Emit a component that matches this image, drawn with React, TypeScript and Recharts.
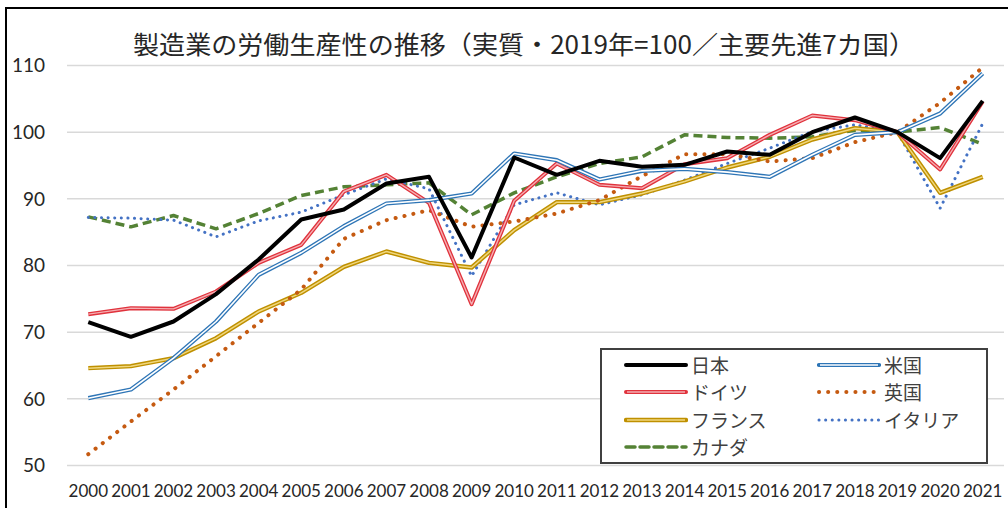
import { LineChart, Line, XAxis, YAxis, CartesianGrid } from 'recharts';

const years = [
  '2000', '2001', '2002', '2003', '2004', '2005', '2006', '2007', '2008', '2009', '2010',
  '2011', '2012', '2013', '2014', '2015', '2016', '2017', '2018', '2019', '2020', '2021'
];

const japan = [71.5, 69.3, 71.6, 75.7, 80.9, 86.9, 88.4, 92.3, 93.3, 81.2, 96.2, 93.6, 95.7, 94.8, 95.1, 97.1, 96.6, 100.0, 102.2, 100, 96.1, 104.7];
const usa = [60.1, 61.4, 66.1, 71.6, 78.6, 81.9, 85.9, 89.3, 89.8, 90.8, 96.8, 95.8, 92.9, 94.2, 94.5, 94.0, 93.3, 96.6, 99.6, 100, 102.8, 108.8];
const germany = [72.7, 73.6, 73.5, 76.1, 80.4, 83.1, 91.1, 93.6, 89.4, 74.2, 89.7, 95.3, 92.1, 91.6, 95.2, 96.1, 99.6, 102.5, 101.8, 100, 94.4, 104.6];
const uk = [51.7, 56.6, 61.4, 66.4, 71.4, 76.4, 84.0, 86.8, 88.3, 85.8, 86.6, 87.8, 89.8, 93.4, 96.7, 96.7, 95.6, 96.1, 98.5, 100, 104.4, 109.7];
const france = [64.6, 64.9, 66.1, 69.1, 73.1, 75.9, 79.8, 82.1, 80.4, 79.7, 85.3, 89.5, 89.5, 90.8, 92.6, 94.7, 96.3, 98.9, 100.6, 100, 90.9, 93.3];
const italy = [87.2, 87.1, 86.8, 84.3, 86.7, 88.0, 90.6, 93.0, 91.5, 78.4, 89.1, 90.9, 89.1, 90.6, 92.8, 95.3, 97.6, 100.1, 101.1, 100, 88.6, 101.3];
const canada = [87.3, 85.8, 87.5, 85.5, 87.8, 90.5, 91.8, 92.1, 92.4, 87.6, 90.9, 93.3, 95.3, 96.3, 99.6, 99.2, 99.1, 99.3, 100.3, 100, 100.7, 98.2];

const yTicks = [50, 60, 70, 80, 90, 100, 110];

const data = years.map((y, i) => ({
  year: y,
  japan: japan[i],
  usa: usa[i],
  germany: germany[i],
  uk: uk[i],
  france: france[i],
  italy: italy[i],
  canada: canada[i]
}));

const TITLE = '製造業の労働生産性の推移（実質・2019年=100／主要先進7カ国）';

type LineStyle = {
  stroke: string;
  width: number;
  dash?: string;
  cap?: 'round' | 'butt';
  inner?: string;
  innerWidth?: number;
};

const STYLES: Record<string, LineStyle> = {
  japan: { stroke: '#000000', width: 4 },
  usa: { stroke: '#2E75B6', width: 4.2, inner: '#ffffff', innerWidth: 1.6 },
  germany: { stroke: '#E0323C', width: 4, inner: '#F5AEB2', innerWidth: 1.4 },
  uk: { stroke: '#C55A11', width: 4, dash: '0.1 9', cap: 'round' },
  france: { stroke: '#BF9000', width: 4.4, inner: '#F0D77E', innerWidth: 1.5 },
  italy: { stroke: '#4472C4', width: 3, dash: '0.1 6.5', cap: 'round' },
  canada: { stroke: '#548235', width: 3.5, dash: '9 5' }
};

// legend is laid out row by row, two columns, same as the picture
const LEGEND = [
  { key: 'japan', name: '日本' },
  { key: 'usa', name: '米国' },
  { key: 'germany', name: 'ドイツ' },
  { key: 'uk', name: '英国' },
  { key: 'france', name: 'フランス' },
  { key: 'italy', name: 'イタリア' },
  { key: 'canada', name: 'カナダ' }
];

// drawing order (last one on top)
const ORDER = ['canada', 'italy', 'france', 'uk', 'germany', 'usa', 'japan'];

const fontJP = '"Noto Sans CJK JP", "Noto Sans", sans-serif';

function seriesLines(key: string) {
  const s = STYLES[key];
  const out = [
    <Line
      key={key}
      type="linear"
      dataKey={key}
      stroke={s.stroke}
      strokeWidth={s.width}
      strokeDasharray={s.dash}
      strokeLinecap={s.cap || 'butt'}
      strokeLinejoin="round"
      dot={false}
      activeDot={false}
      isAnimationActive={false}
    />
  ];
  if (s.inner) {
    out.push(
      <Line
        key={key + '-inner'}
        type="linear"
        dataKey={key}
        stroke={s.inner}
        strokeWidth={s.innerWidth}
        strokeLinejoin="round"
        dot={false}
        activeDot={false}
        isAnimationActive={false}
      />
    );
  }
  return out;
}

function LegendSample({ k }: { k: string }) {
  const s = STYLES[k];
  return (
    <svg width={64} height={10} style={{ display: 'block' }}>
      <line x1={2} x2={62} y1={5} y2={5} stroke={s.stroke} strokeWidth={s.width}
        strokeDasharray={s.dash} strokeLinecap={s.cap || 'round'} />
      {s.inner && (
        <line x1={3} x2={61} y1={5} y2={5} stroke={s.inner} strokeWidth={s.innerWidth} />
      )}
    </svg>
  );
}

export default function App() {
  return (
    <div style={{ position: 'absolute', left: 0, top: 0, width: 1008, height: 508, background: '#fff', overflow: 'hidden' }}>
      {/* frame: only top and left edges are visible in the crop */}
      <div style={{ position: 'absolute', left: 5, top: 7, width: 1100, height: 600, border: '2.5px solid #000', boxSizing: 'border-box' }} />

      <LineChart
        width={1008}
        height={508}
        data={data}
        margin={{ top: 65.5, right: 4, bottom: 0, left: 7 }}
        style={{ position: 'absolute', left: 0, top: 0 }}
      >
        <CartesianGrid vertical={false} stroke="#d9d9d9" strokeWidth={1.5} />
        <XAxis
          dataKey="year"
          interval={0}
          padding={{ left: 21.3, right: 21.3 }}
          axisLine={false}
          tickLine={false}
          tickSize={0}
          tickMargin={19}
          height={42.5}
          tick={{ fontSize: 17, fill: '#262626', fontFamily: 'Lato, "Open Sans", sans-serif' }}
        />
        <YAxis
          domain={[50, 110]}
          ticks={yTicks}
          width={60}
          axisLine={false}
          tickLine={false}
          tickSize={0}
          tickMargin={22}
          tick={{ fontSize: 19, fill: '#262626', fontFamily: 'Lato, "Open Sans", sans-serif' }}
        />
        {ORDER.flatMap(k => seriesLines(k))}
      </LineChart>

      <svg width={1008} height={70} style={{ position: 'absolute', left: 0, top: 0, pointerEvents: 'none' }}>
        <text x={524} y={54} textAnchor="middle" fontSize={25} fill="#262626"
          fontFamily={fontJP} textLength={782} lengthAdjust="spacingAndGlyphs">
          {TITLE}
        </text>
      </svg>

      <div style={{
        position: 'absolute', left: 600, top: 348, width: 388, height: 116,
        border: '2px solid #404040', background: '#fff', boxSizing: 'border-box'
      }}>
        {LEGEND.map((item, i) => {
          const col = i % 2;
          const row = Math.floor(i / 2);
          return (
            <div key={item.key} style={{
              position: 'absolute', left: col === 0 ? 22 : 215, top: 3 + row * 27.3,
              height: 24, display: 'flex', alignItems: 'center', gap: 3
            }}>
              <LegendSample k={item.key} />
              <span style={{ fontFamily: fontJP, fontSize: 19, color: '#404040', lineHeight: '24px' }}>
                {item.name}
              </span>
            </div>
          );
        })}
      </div>
    </div>
  );
}
